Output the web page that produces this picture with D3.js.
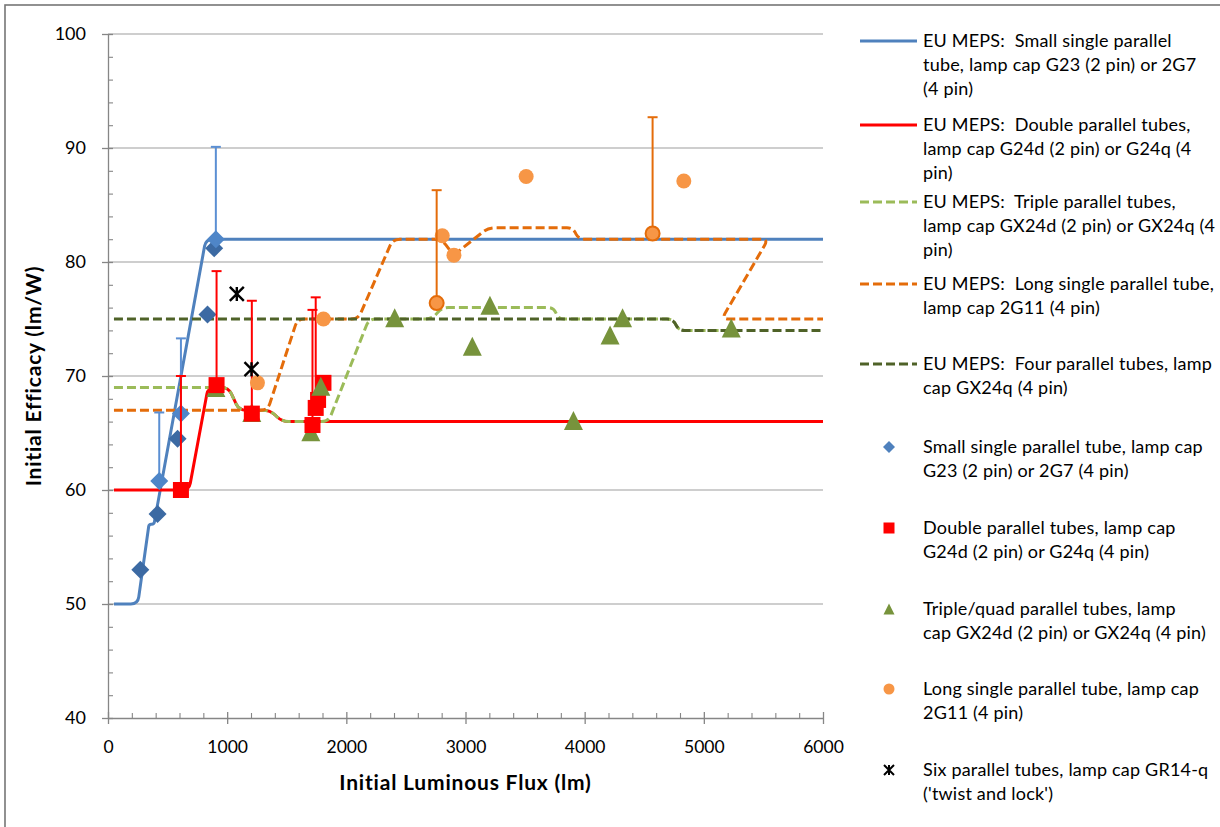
<!DOCTYPE html>
<html>
<head>
<meta charset="utf-8">
<script src="https://cdn.jsdelivr.net/npm/d3@7"></script>
<style>
  body { margin: 0; background: #fff; }
  svg text { font-family: Lato, "Open Sans", sans-serif; fill: #000; white-space: pre; }
</style>
</head>
<body>
<svg id="chart" width="1220" height="827"></svg>
<script>
// ---- MEPS limit curves: [initial luminous flux (lm), initial efficacy (lm/W)] ----
const mepsSmallSingle = [[50,50],[250,50],[344,57],[386,57],[821,82],[6000,82]];
const mepsDouble      = [[50,60],[680,60],[840,69],[1010,69],[1100,67],[1360,67],[1460,66],[6000,66]];
const mepsTriple      = [[50,69],[1010,69],[1100,67],[1360,67],[1460,66],[1850,66],[2190,75],[2720,75],
                         [2800,76],[3740,76],[3780,75],[4740,75],[4790,74],[5200,74]];
const mepsLongSingle  = [[50,67],[1340,67],[1590,75],[2100,75],[2390,82],[2800,82],[2900,80.6],[3190,83],
                         [3900,83],[3950,82],[5540,82],[5150,75],[6000,75]];
const mepsFour        = [[50,75],[4740,75],[4790,74],[6000,74]];

// ---- Measured lamps ----
// small single parallel tube: individual lamps, and averages with upper error
const smallSingleLamps = [[271,53.0],[416,57.9],[584,64.5],[835,75.4],[891,81.2]];
const smallSingleAvg   = [[430,60.8,6.0],[612,66.7,6.6],[905,82.0,8.1]];
// double parallel tubes: flux, efficacy, upper error
const doubleTubes = [[612,60.0,10.0],[911,69.2,10.0],[1207,66.7,9.9],[1716,65.7,10.1],[1743,67.2,9.7],
                     [1763,67.9,0],[1808,69.4,0]];
// triple/quad parallel tubes
const tripleQuadLow  = [[905,69.0],[1207,66.8],[1702,65.1]];
const tripleQuadHigh = [[1786,69.1],[2406,75.1],[3057,72.6],[3205,76.2],[3906,66.1],[4213,73.6],[4318,75.1],[5230,74.2]];
// long single parallel tube
const longSingleLamps = [[1254,69.4],[1808,75.0],[2805,82.3],[2903,80.6],[3509,87.5],[4832,87.1]];
const longSingleAvg   = [[2758,76.4,9.9],[4570,82.5,10.2]];
// six parallel tubes (twist and lock)
const sixTubes = [[1081,77.2],[1204,70.6]];

// ---- Axes ticks ----
const xMajor = [0,1000,2000,3000,4000,5000,6000];
const xMinor = d3.range(0, 6001, 200);
const yMajor = [40,50,60,70,80,90,100];
const yMinor = d3.range(40, 101, 2);

const xTitle = "Initial Luminous Flux (lm)";
const yTitle = "Initial Efficacy (lm/W)";

const legendItems = [
  {kind:"line", color:"#4F81BD", dash:null, lines:["EU MEPS:  Small single parallel","tube, lamp cap G23 (2 pin) or 2G7","(4 pin)"]},
  {kind:"line", color:"#FF0000", dash:null, lines:["EU MEPS:  Double parallel tubes,","lamp cap G24d (2 pin) or G24q (4","pin)"]},
  {kind:"line", color:"#9BBB59", dash:"9,4", lines:["EU MEPS:  Triple parallel tubes,","lamp cap GX24d (2 pin) or GX24q (4","pin)"]},
  {kind:"line", color:"#E46C0A", dash:"9,4", lines:["EU MEPS:  Long single parallel tube,","lamp cap 2G11 (4 pin)"]},
  {kind:"line", color:"#4F6228", dash:"9,4", lines:["EU MEPS:  Four parallel tubes, lamp","cap GX24q (4 pin)"]},
  {kind:"diamond", lines:["Small single parallel tube, lamp cap","G23 (2 pin) or 2G7 (4 pin)"]},
  {kind:"square", lines:["Double parallel tubes, lamp cap","G24d (2 pin) or G24q (4 pin)"]},
  {kind:"triangle", lines:["Triple/quad parallel tubes, lamp","cap GX24d (2 pin) or GX24q (4 pin)"]},
  {kind:"circle", lines:["Long single parallel tube, lamp cap","2G11 (4 pin)"]},
  {kind:"star", lines:["Six parallel tubes, lamp cap GR14-q","('twist and lock')"]}
];
const legendRowY = [41, 125, 202, 284, 364, 447, 528, 609, 689, 770];

// ---- Line with softly rounded corners (straight runs, small fillets at vertices) ----
function RoundedCorners(context) { this._context = context; }
RoundedCorners.prototype = {
  areaStart() {}, areaEnd() {},
  lineStart() { this._p = []; },
  point(px, py) { this._p.push([+px, +py]); },
  lineEnd() {
    const p = this._p, c = this._context, n = p.length;
    if (!n) return;
    c.moveTo(p[0][0], p[0][1]);
    for (let i = 1; i < n - 1; i++) {
      const a = p[i - 1], v = p[i], b = p[i + 1];
      const la = Math.hypot(v[0] - a[0], v[1] - a[1]);
      const lb = Math.hypot(b[0] - v[0], b[1] - v[1]);
      const r = Math.min(7, 0.45 * la, 0.45 * lb);
      const p1 = [v[0] + (a[0] - v[0]) * r / la, v[1] + (a[1] - v[1]) * r / la];
      const p2 = [v[0] + (b[0] - v[0]) * r / lb, v[1] + (b[1] - v[1]) * r / lb];
      c.lineTo(p1[0], p1[1]);
      c.quadraticCurveTo(v[0], v[1], p2[0], p2[1]);
    }
    if (n > 1) c.lineTo(p[n - 1][0], p[n - 1][1]);
  }
};
const curveRounded = ctx => new RoundedCorners(ctx);

// ---- Setup ----
const W = 1220, H = 827;
const svg = d3.select("#chart");
const x = d3.scaleLinear().domain([0, 6000]).range([108, 823]);
const y = d3.scaleLinear().domain([40, 100]).range([718, 34]);

svg.append("rect").attr("width", W).attr("height", H).attr("fill", "#fff");
svg.append("rect").attr("x", 5).attr("y", 5).attr("width", W + 20).attr("height", H + 20)
   .attr("fill", "none").attr("stroke", "#767676").attr("stroke-width", 1.6);

// horizontal gridlines
svg.append("g").selectAll("line").data(yMajor.filter(v => v > 40)).join("line")
   .attr("x1", x(0)).attr("x2", x(6000)).attr("y1", d => y(d)).attr("y2", d => y(d))
   .attr("stroke", "#BEBEBE").attr("stroke-width", 1.3);

// y axis
const axisColor = "#868686";
const gy = svg.append("g").attr("transform", `translate(${x(0)},0)`)
   .call(d3.axisLeft(y).tickValues(yMajor).tickSizeInner(6).tickSizeOuter(0).tickPadding(16));
gy.select(".domain").attr("stroke", axisColor).attr("stroke-width", 1.3);
gy.selectAll(".tick line").attr("stroke", axisColor).attr("stroke-width", 1.3).attr("x1", 5);
gy.selectAll(".tick text").attr("font-size", 18).attr("fill", "#000").attr("font-family", "Lato");
svg.append("g").attr("transform", `translate(${x(0)},0)`)
   .call(d3.axisRight(y).tickValues(yMinor.filter(v => yMajor.indexOf(v) < 0)).tickSize(5).tickFormat(""))
   .call(g => g.select(".domain").remove())
   .selectAll(".tick line").attr("stroke", axisColor).attr("stroke-width", 1.1);

// x axis
const gx = svg.append("g").attr("transform", `translate(0,${y(40)})`)
   .call(d3.axisBottom(x).tickValues(xMajor).tickFormat(d3.format("d"))
          .tickSizeInner(6).tickSizeOuter(0).tickPadding(17));
gx.select(".domain").attr("stroke", axisColor).attr("stroke-width", 1.3);
gx.selectAll(".tick line").attr("stroke", axisColor).attr("stroke-width", 1.3).attr("y1", -6);
gx.selectAll(".tick text").attr("font-size", 17.5).attr("fill", "#000").attr("font-family", "Lato");
svg.append("g").attr("transform", `translate(0,${y(40)})`)
   .call(d3.axisTop(x).tickValues(xMinor.filter(v => xMajor.indexOf(v) < 0)).tickSize(5).tickFormat(""))
   .call(g => g.select(".domain").remove())
   .selectAll(".tick line").attr("stroke", axisColor).attr("stroke-width", 1.1);

// axis titles
svg.append("text").attr("x", (x(0) + x(6000)) / 2).attr("y", 790).attr("text-anchor", "middle")
   .attr("font-size", 21).attr("letter-spacing", 0.8).attr("font-weight", "bold").text(xTitle);
svg.append("text").attr("transform", `translate(41,${(y(40) + y(100)) / 2}) rotate(-90)`)
   .attr("text-anchor", "middle").attr("font-size", 21).attr("letter-spacing", 0.8)
   .attr("font-weight", "bold").text(yTitle);

// ---- MEPS curves ----
const curveLine = d3.line().x(d => x(d[0])).y(d => y(d[1])).curve(curveRounded);
const plot = svg.append("g");
function drawCurve(data, color, dash) {
  plot.append("path").attr("d", curveLine(data)).attr("fill", "none")
      .attr("stroke", color).attr("stroke-width", 3).attr("stroke-dasharray", dash)
      .attr("stroke-linejoin", "round");
}
drawCurve(mepsSmallSingle, "#4F81BD", null);
drawCurve(mepsDouble, "#FF0000", null);
drawCurve(mepsTriple, "#9BBB59", "9,4");
drawCurve(mepsLongSingle, "#E46C0A", "9,4");
drawCurve(mepsFour, "#4F6228", "9,4");

// ---- marker shapes ----
function diamondPath(r) { return `M0,${-r}L${r},0L0,${r}L${-r},0Z`; }
function trianglePath(r) { return `M0,${-r}L${r},${r}L${-r},${r}Z`; }
function starPath(r) { return `M${-r},${-r}L${r},${r}M${r},${-r}L${-r},${r}M0,${-r}L0,${r}`; }

function errorBars(data, color) {
  const g = plot.append("g").attr("stroke", color).attr("stroke-width", 2);
  const withErr = data.filter(d => d[2] > 0);
  g.selectAll("line.v").data(withErr).join("line")
   .attr("x1", d => x(d[0])).attr("x2", d => x(d[0]))
   .attr("y1", d => y(d[1])).attr("y2", d => y(d[1] + d[2]));
  g.selectAll("line.c").data(withErr).join("line")
   .attr("x1", d => x(d[0]) - 5).attr("x2", d => x(d[0]) + 5)
   .attr("y1", d => y(d[1] + d[2])).attr("y2", d => y(d[1] + d[2]));
}

// small single parallel tube
plot.append("g").selectAll("path").data(smallSingleLamps).join("path")
    .attr("d", diamondPath(9)).attr("fill", "#3C6AA3")
    .attr("transform", d => `translate(${x(d[0])},${y(d[1])})`);
errorBars(smallSingleAvg, "#5B8FD3");
plot.append("g").selectAll("path").data(smallSingleAvg).join("path")
    .attr("d", diamondPath(9)).attr("fill", "#4F86C8")
    .attr("transform", d => `translate(${x(d[0])},${y(d[1])})`);

// triple/quad drawn beneath the double-tube squares
plot.append("g").selectAll("path").data(tripleQuadLow).join("path")
    .attr("d", trianglePath(9.5)).attr("fill", "#77933C")
    .attr("transform", d => `translate(${x(d[0])},${y(d[1])})`);

// double parallel tubes
errorBars(doubleTubes, "#FF0000");
plot.append("g").selectAll("rect").data(doubleTubes).join("rect")
    .attr("x", d => x(d[0]) - 8).attr("y", d => y(d[1]) - 8)
    .attr("width", 16).attr("height", 16).attr("fill", "#FF0000");

plot.append("g").selectAll("path").data(tripleQuadHigh).join("path")
    .attr("d", trianglePath(9.5)).attr("fill", "#77933C")
    .attr("transform", d => `translate(${x(d[0])},${y(d[1])})`);

// long single parallel tube
plot.append("g").selectAll("circle").data(longSingleLamps).join("circle")
    .attr("cx", d => x(d[0])).attr("cy", d => y(d[1])).attr("r", 7.5).attr("fill", "#F79646");
errorBars(longSingleAvg, "#E46C0A");
plot.append("g").selectAll("circle").data(longSingleAvg).join("circle")
    .attr("cx", d => x(d[0])).attr("cy", d => y(d[1])).attr("r", 7)
    .attr("fill", "#F79646").attr("stroke", "#E46C0A").attr("stroke-width", 2);

// six parallel tubes
plot.append("g").selectAll("path").data(sixTubes).join("path")
    .attr("d", starPath(7)).attr("fill", "none").attr("stroke", "#000").attr("stroke-width", 2.4)
    .attr("transform", d => `translate(${x(d[0])},${y(d[1])})`);

// ---- legend ----
const lg = svg.append("g");
legendItems.forEach((item, i) => {
  const cy = legendRowY[i];
  const g = lg.append("g");
  if (item.kind === "line") {
    g.append("line").attr("x1", 860).attr("x2", 917).attr("y1", cy).attr("y2", cy)
     .attr("stroke", item.color).attr("stroke-width", 3).attr("stroke-dasharray", item.dash);
  } else if (item.kind === "diamond") {
    g.append("path").attr("d", diamondPath(6)).attr("fill", "#4F81BD").attr("transform", `translate(889,${cy})`);
  } else if (item.kind === "square") {
    g.append("rect").attr("x", 883.5).attr("y", cy - 5.5).attr("width", 11).attr("height", 11).attr("fill", "#FF0000");
  } else if (item.kind === "triangle") {
    g.append("path").attr("d", trianglePath(5.5)).attr("fill", "#77933C").attr("transform", `translate(889,${cy})`);
  } else if (item.kind === "circle") {
    g.append("circle").attr("cx", 889).attr("cy", cy).attr("r", 5.5).attr("fill", "#F79646");
  } else if (item.kind === "star") {
    g.append("path").attr("d", starPath(5)).attr("fill", "none").attr("stroke", "#000").attr("stroke-width", 2)
     .attr("transform", `translate(889,${cy})`);
  }
  item.lines.forEach((t, j) => {
    g.append("text").attr("x", 923).attr("y", cy + j * 24).attr("dy", "0.35em")
     .attr("font-size", 18).attr("letter-spacing", 0.2).text(t);
  });
});
</script>
</body>
</html>
